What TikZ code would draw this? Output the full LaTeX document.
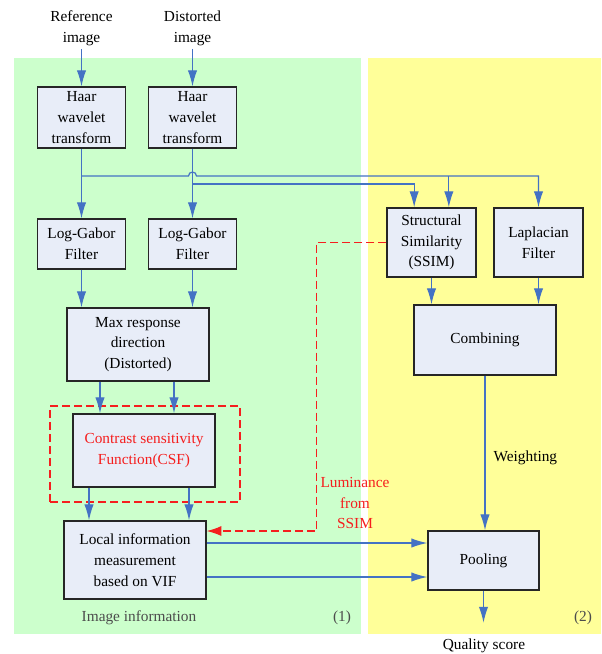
\documentclass[tikz,border=0pt]{standalone}
\usepackage{fontspec}
\setmainfont{Liberation Serif}
\definecolor{flowblue}{RGB}{68,114,196}
\definecolor{boxfill}{RGB}{232,237,248}
\definecolor{greenbg}{RGB}{204,255,204}
\definecolor{yellowbg}{RGB}{255,255,153}
\definecolor{lumred}{RGB}{245,30,30}
\tikzset{
  blk/.style = {align=center, inner sep=0pt, text centered,
    font=\fontsize{11.5}{15.6}\selectfont},
  blk_b/.style = {blk, rectangle, draw=black!85, fill=boxfill,
    line width=1pt},% boite
  blk_t/.style = {blk},% texte libre
  blk_f/.style = {rectangle, draw=lumred, line width=0.9pt,
    dash pattern=on 6pt off 3pt},% cadre CSF
  flw/.style = {-{Latex[length=12pt,width=7pt]}, draw=flowblue,
    line width=0.9pt},% fleche bleue
  flw_r/.style = {-{Latex[length=11pt,width=7.5pt]}, draw=lumred,
    line width=0.9pt, dash pattern=on 6pt off 3pt}% luminance
}
\usetikzlibrary{arrows.meta}

\begin{document}
\begin{tikzpicture}[x=0.75pt,y=-0.75pt]
\useasboundingbox (0,0) rectangle (601,654);
\fill[greenbg] (14,58) rectangle (361,634);
\fill[yellowbg] (368,58) rectangle (601,634);

\node [blk_t] (ref_t) at (81.5,28) {Reference\\image};
\node [blk_t] (dis_t) at (192.5,28) {Distorted\\image};
\node [blk_b, minimum width=66pt, minimum height=45.75pt] (haar_r) at (81.5,117.5) {Haar\\wavelet\\transform};
\node [blk_b, minimum width=66pt, minimum height=45.75pt] (haar_d) at (192.5,117.5) {Haar\\wavelet\\transform};
\node [blk_b, minimum width=66pt, minimum height=37.5pt] (lg_r) at (81.5,244) {Log-Gabor\\Filter};
\node [blk_b, minimum width=66pt, minimum height=37.5pt] (lg_d) at (192.5,244) {Log-Gabor\\Filter};
\node [blk_b, minimum width=66.75pt, minimum height=51.75pt] (ssim) at (431.5,242.5) {Structural\\Similarity\\(SSIM)};
\node [blk_b, minimum width=66.75pt, minimum height=51.75pt] (lap) at (538.5,242.5) {Laplacian\\Filter};
\node [blk_b, minimum width=106.5pt, minimum height=54.75pt] (maxr) at (138,344.5) {Max response\\direction\\(Distorted)};
\node [blk_b, minimum width=106.5pt, minimum height=52.5pt] (comb) at (485,340) {Combining};
\node [blk_f, minimum width=142.5pt, minimum height=72pt] (csf_f) at (145,454) {};
\node [blk_b, text=lumred, minimum width=106.5pt, minimum height=54.75pt] (csf) at (144,450.5) {Contrast sensitivity\\Function(CSF)};
\node [blk_b, minimum width=106.5pt, minimum height=58.5pt] (local) at (135,560) {Local information\\measurement\\based on VIF};
\node [blk_b, minimum width=83.25pt, minimum height=44.25pt] (pool) at (483.5,560.5) {Pooling};
\node [blk_t, text=lumred] (lum_t) at (355,503) {Luminance\\from\\SSIM};
\node [blk_t] (q_t) at (484,646) {Quality score};
\node [blk_t, text=black!70] (info_t) at (139,618) {Image information};
\node [blk_t, text=black!70] (p1_t) at (342,618) {(1)};
\node [blk_t, text=black!70] (p2_t) at (583,618) {(2)};

\coordinate (bus_r) at (81.5,176);
\coordinate (bus_d) at (192.5,184);
\coordinate (lum_c) at (316.5,531);

% entree -> Haar -> Log-Gabor
\draw[flw, shorten <=2.5pt] (ref_t) -- (haar_r);
\draw[flw, shorten <=2.5pt] (dis_t) -- (haar_d);
\draw[flw] (haar_r) -- (lg_r);
\draw[flw] (haar_d) -- (lg_d);
% bus vers SSIM et Laplacian
\draw[flw] (bus_r) -- ([xshift=-3pt]haar_d.south |- bus_r)
  arc[start angle=180, end angle=0, radius=3pt]
  -- (lap.north |- bus_r) -- (lap.north);
\draw[flw] ([xshift=13pt]ssim.north |- bus_r) -- ([xshift=13pt]ssim.north);
\draw[flw] (bus_d) -| ([xshift=-13pt]ssim.north);
% partie (1)
\draw[flw] (lg_r) -- (lg_r |- maxr.north);
\draw[flw] (lg_d) -- (lg_d |- maxr.north);
\draw[flw] ([xshift=-28.5pt]maxr.south) -- ([xshift=-28.5pt]maxr.south |- csf.north);
\draw[flw] ([xshift=27pt]maxr.south) -- ([xshift=27pt]maxr.south |- csf.north);
\draw[flw] ([xshift=-41.25pt]csf.south) -- ([xshift=-41.25pt]csf.south |- local.north);
\draw[flw] ([xshift=33.75pt]csf.south) -- ([xshift=33.75pt]csf.south |- local.north);
\draw[flw_r] (ssim.west) -| (lum_c) -- (local.east |- lum_c);
% partie (2)
\draw[flw] (ssim) -- (ssim |- comb.north);
\draw[flw] (lap) -- (lap |- comb.north);
\draw[flw] (comb) -- (comb |- pool.north)
  node[blk_t, pos=0.53, right=6pt] (wt_t) {Weighting};
\draw[flw] ([yshift=12.75pt]local.east) -- ([yshift=12.75pt]local.east -| pool.west);
\draw[flw] ([yshift=-12.75pt]local.east) -- ([yshift=-12.75pt]local.east -| pool.west);
\draw[flw, shorten >=12pt] (pool) -- (pool |- q_t.north);
\end{tikzpicture}
\end{document}
